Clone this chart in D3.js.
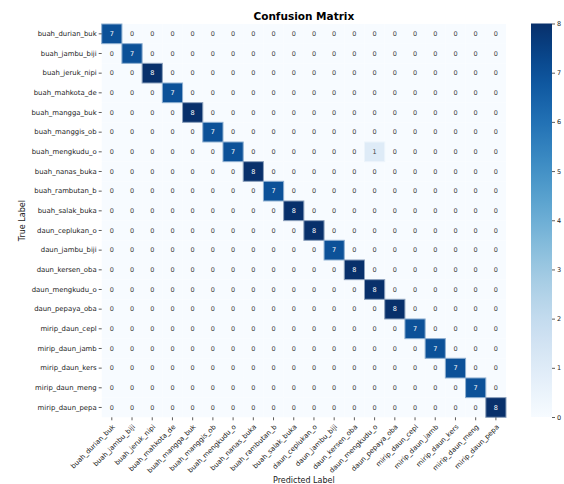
<!DOCTYPE html>
<html>
<head>
<meta charset="utf-8">
<script src="https://cdn.jsdelivr.net/npm/d3@7"></script>
<style>
  html, body { margin: 0; padding: 0; background: #ffffff; }
  svg { display: block; font-family: "DejaVu Sans", sans-serif; }
</style>
</head>
<body>
<svg id="chart" width="564" height="484"></svg>
<script>
// Class names (rows = true label, columns = predicted label)
const labels = [
  "buah_durian_buk", "buah_jambu_biji", "buah_jeruk_nipi", "buah_mahkota_de",
  "buah_mangga_buk", "buah_manggis_ob", "buah_mengkudu_o", "buah_nanas_buka",
  "buah_rambutan_b", "buah_salak_buka", "daun_ceplukan_o", "daun_jambu_biji",
  "daun_kersen_oba", "daun_mengkudu_o", "daun_pepaya_oba", "mirip_daun_cepl",
  "mirip_daun_jamb", "mirip_daun_kers", "mirip_daun_meng", "mirip_daun_pepa"
];

// Count matrix
const counts = [
  [7,0,0,0,0,0,0,0,0,0,0,0,0,0,0,0,0,0,0,0],
  [0,7,0,0,0,0,0,0,0,0,0,0,0,0,0,0,0,0,0,0],
  [0,0,8,0,0,0,0,0,0,0,0,0,0,0,0,0,0,0,0,0],
  [0,0,0,7,0,0,0,0,0,0,0,0,0,0,0,0,0,0,0,0],
  [0,0,0,0,8,0,0,0,0,0,0,0,0,0,0,0,0,0,0,0],
  [0,0,0,0,0,7,0,0,0,0,0,0,0,0,0,0,0,0,0,0],
  [0,0,0,0,0,0,7,0,0,0,0,0,0,1,0,0,0,0,0,0],
  [0,0,0,0,0,0,0,8,0,0,0,0,0,0,0,0,0,0,0,0],
  [0,0,0,0,0,0,0,0,7,0,0,0,0,0,0,0,0,0,0,0],
  [0,0,0,0,0,0,0,0,0,8,0,0,0,0,0,0,0,0,0,0],
  [0,0,0,0,0,0,0,0,0,0,8,0,0,0,0,0,0,0,0,0],
  [0,0,0,0,0,0,0,0,0,0,0,7,0,0,0,0,0,0,0,0],
  [0,0,0,0,0,0,0,0,0,0,0,0,8,0,0,0,0,0,0,0],
  [0,0,0,0,0,0,0,0,0,0,0,0,0,8,0,0,0,0,0,0],
  [0,0,0,0,0,0,0,0,0,0,0,0,0,0,8,0,0,0,0,0],
  [0,0,0,0,0,0,0,0,0,0,0,0,0,0,0,7,0,0,0,0],
  [0,0,0,0,0,0,0,0,0,0,0,0,0,0,0,0,7,0,0,0],
  [0,0,0,0,0,0,0,0,0,0,0,0,0,0,0,0,0,7,0,0],
  [0,0,0,0,0,0,0,0,0,0,0,0,0,0,0,0,0,0,7,0],
  [0,0,0,0,0,0,0,0,0,0,0,0,0,0,0,0,0,0,0,8]
];

const colorTicks = [0, 1, 2, 3, 4, 5, 6, 7, 8];

const svg = d3.select("#chart");

// Heatmap area
const gx0 = 101.7, gx1 = 506, gy0 = 24, gy1 = 417.3;
const x = d3.scaleBand().domain(d3.range(labels.length)).range([gx0, gx1]);
const y = d3.scaleBand().domain(d3.range(labels.length)).range([gy0, gy1]);
const color = d3.scaleSequential(d3.interpolateBlues).domain([0, 8]);

const cells = [];
counts.forEach((row, i) => row.forEach((v, j) => cells.push({ i, j, v })));

const g = svg.append("g");
g.selectAll("rect.cell")
  .data(cells)
  .join("rect")
  .attr("class", "cell")
  .attr("x", d => x(d.j))
  .attr("y", d => y(d.i))
  .attr("width", x.bandwidth())
  .attr("height", y.bandwidth())
  .attr("fill", d => color(d.v))
  .attr("stroke", d => d3.interpolateRgb(color(d.v), "#f7fbff")(0.55))
  .attr("stroke-width", d => d.v > 0 ? 1 : 0);

// Keep the dark cells on top so their outlines are not covered
g.selectAll("rect.cell").filter(d => d.v > 0).raise();

// Cell annotations
g.selectAll("text.annot")
  .data(cells)
  .join("text")
  .attr("class", "annot")
  .attr("x", d => x(d.j) + x.bandwidth() / 2)
  .attr("y", d => y(d.i) + y.bandwidth() / 2)
  .attr("dy", "0.35em")
  .attr("text-anchor", "middle")
  .attr("font-size", 6.5)
  .attr("fill", d => d.v >= 5 ? "#ffffff" : "#444444")
  .text(d => d.v);

// Y axis (true labels)
const yAxis = d3.axisLeft(d3.scaleBand().domain(labels).range([gy0, gy1]))
  .tickSize(3).tickPadding(2);
const yg = svg.append("g").attr("transform", `translate(${gx0},0)`).call(yAxis);
yg.select(".domain").remove();
yg.selectAll(".tick line").attr("stroke", "#333").attr("stroke-width", 0.8);
yg.selectAll(".tick text").attr("font-size", 6.9).attr("fill", "#222")
  .attr("font-family", "DejaVu Sans, sans-serif");

// X axis (predicted labels), rotated 45 degrees
const xAxis = d3.axisBottom(d3.scaleBand().domain(labels).range([gx0, gx1]))
  .tickSize(3).tickPadding(2);
const xg = svg.append("g").attr("transform", `translate(0,${gy1})`).call(xAxis);
xg.select(".domain").remove();
xg.selectAll(".tick line").attr("stroke", "#333").attr("stroke-width", 0.8);
xg.selectAll(".tick text")
  .attr("font-size", 6.9).attr("fill", "#222")
  .attr("font-family", "DejaVu Sans, sans-serif")
  .attr("text-anchor", "end")
  .attr("x", 0).attr("y", 0).attr("dy", 0)
  .attr("transform", "translate(3.5,10) rotate(-45)");

// Title and axis titles
svg.append("text")
  .attr("x", (gx0 + gx1) / 2).attr("y", 20)
  .attr("text-anchor", "middle")
  .attr("font-size", 10.5).attr("font-weight", "bold").attr("fill", "#000")
  .text("Confusion Matrix");

svg.append("text")
  .attr("x", (gx0 + gx1) / 2).attr("y", 483)
  .attr("text-anchor", "middle")
  .attr("font-size", 8).attr("fill", "#222")
  .text("Predicted Label");

svg.append("text")
  .attr("transform", `translate(25,${(gy0 + gy1) / 2}) rotate(-90)`)
  .attr("text-anchor", "middle")
  .attr("font-size", 8).attr("fill", "#222")
  .text("True Label");

// Colour bar
const cbx = 531, cbw = 21, cby0 = 23.5, cby1 = 417;
const defs = svg.append("defs");
const grad = defs.append("linearGradient").attr("id", "cbgrad")
  .attr("x1", 0).attr("y1", 1).attr("x2", 0).attr("y2", 0);
d3.range(0, 1.0001, 0.05).forEach(t => {
  grad.append("stop").attr("offset", t).attr("stop-color", color(t * 8));
});
svg.append("rect")
  .attr("x", cbx).attr("y", cby0).attr("width", cbw).attr("height", cby1 - cby0)
  .attr("fill", "url(#cbgrad)");

const cbScale = d3.scaleLinear().domain([0, 8]).range([cby1, cby0]);
const cbAxis = d3.axisRight(cbScale).tickValues(colorTicks).tickSize(3).tickPadding(2)
  .tickFormat(d3.format("d"));
const cg = svg.append("g").attr("transform", `translate(${cbx + cbw},0)`).call(cbAxis);
cg.select(".domain").remove();
cg.selectAll(".tick line").attr("stroke", "#333").attr("stroke-width", 0.8);
cg.selectAll(".tick text").attr("font-size", 6.5).attr("fill", "#222")
  .attr("font-family", "DejaVu Sans, sans-serif");
</script>
</body>
</html>
